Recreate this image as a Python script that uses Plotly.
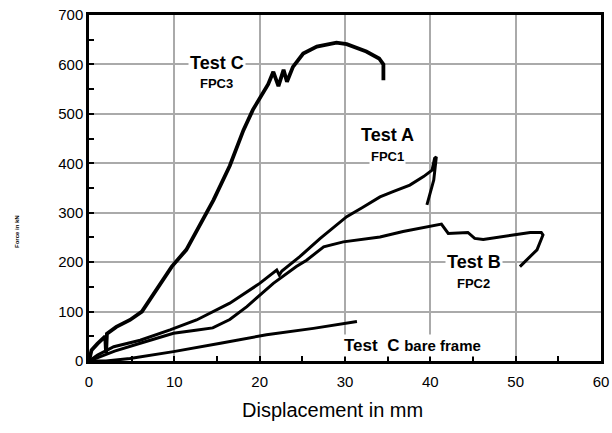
import plotly.graph_objects as go

# Test C (FPC3)
c_x = [0, 0.3, 1.0, 1.9, 2.0, 2.1, 3.2, 4.8, 6.2, 7.1, 8.5, 9.7, 11.4, 13.0, 14.6, 16.5,
       18.1, 19.2, 20.0, 21.0, 21.6, 22.2, 22.8, 23.2, 23.9, 25.1, 26.7, 29.0, 30.2, 32.5,
       34.0, 34.5, 34.5]
c_y = [0, 22, 35, 50, 16, 55, 69, 83, 100, 123, 160, 191, 225, 275, 326, 395,
       467, 508, 530, 560, 585, 556, 589, 565, 595, 622, 636, 644, 641, 626,
       612, 600, 568]

# Test A (FPC1)
a_x = [0, 1.0, 2.9, 6.0, 9.5, 12.6, 16.5, 20.0, 22.0, 22.3, 22.6, 24.7, 27.1, 30.2, 32.0,
       34.1, 35.7, 37.6, 39.2, 40.2, 40.5, 40.7, 40.4, 39.6]
a_y = [0, 12, 29, 42, 63, 83, 117, 157, 184, 174, 182, 211, 248, 292, 310,
       332, 343, 356, 373, 386, 410, 413, 366, 316]

# Test B (FPC2)
b_x = [0, 3.0, 6.0, 9.9, 12.5, 14.5, 16.5, 18.5, 21.6, 24.3, 25.5, 27.5, 29.8, 32.9, 34.1,
       36.8, 40.0, 41.3, 42.1, 44.4, 45.2, 46.2, 49.7, 51.7, 53.0, 53.2, 52.5, 50.5]
b_y = [0, 20, 36, 56, 62, 67, 84, 110, 157, 191, 204, 231, 241, 248, 251,
       262, 272, 277, 258, 260, 248, 246, 255, 260, 260, 255, 225, 191]

# Test C bare frame
f_x = [0, 2.0, 4.8, 9.9, 15.4, 20.8, 26.3, 31.4]
f_y = [0, 0, 5, 19, 36, 53, 66, 80]

x_ticks = [0, 10, 20, 30, 40, 50, 60]
y_ticks = [0, 100, 200, 300, 400, 500, 600, 700]

FONT = "Liberation Sans, Arial, sans-serif"

fig = go.Figure()
for xs, ys, w in [(c_x, c_y, 3.8), (a_x, a_y, 3.0), (b_x, b_y, 3.0), (f_x, f_y, 3.0)]:
    fig.add_trace(go.Scatter(x=xs, y=ys, mode="lines",
                             line=dict(color="black", width=w), showlegend=False,
                             hoverinfo="skip"))

axis_common = dict(
    showline=True, linecolor="black", linewidth=2.5, mirror=True,
    showgrid=True, gridcolor="#aaaaaa", gridwidth=2,
    zeroline=False, ticks="inside", ticklen=5, tickwidth=1.5, tickcolor="black",
    tickfont=dict(family=FONT, size=15, color="black"), automargin=False,
)

fig.update_xaxes(range=[0, 60], tickvals=x_ticks, ticktext=[str(v) for v in x_ticks],
                 minor=dict(dtick=5, ticks="inside", ticklen=5, tickcolor="black", showgrid=False),
                 ticklabelstandoff=5,
                 **axis_common)
fig.update_yaxes(range=[0, 700], tickvals=y_ticks, ticktext=[str(v) for v in y_ticks],
                 minor=dict(dtick=50, ticks="inside", ticklen=5, tickcolor="black", showgrid=False),
                 **axis_common)

def px2paper(px, py):
    return (px - 89) / (601 - 89), (361 - py) / (361 - 15)

def label(px, py, text, size, bg="white"):
    xp, yp = px2paper(px, py)
    fig.add_annotation(x=xp, y=yp, xref="paper", yref="paper", text=text, showarrow=False,
                       font=dict(family=FONT, size=size, color="black"),
                       bgcolor=bg, xanchor="center", yanchor="middle", borderpad=1)

label(217, 63, "<b>Test C</b>", 18)
label(216, 83, "<b>FPC3</b>", 13)
label(387, 135, "<b>Test A</b>", 18)
label(387, 156, "<b>FPC1</b>", 13)
label(474, 262, "<b>Test B</b>", 18)
label(473, 283, "<b>FPC2</b>", 13)
label(412, 345, "<b>Test  C</b> <b><span style='font-size:15px'>bare frame</span></b>", 17)

# x-axis title
label(332, 410, "Displacement in mm", 20, bg="rgba(0,0,0,0)")

# y-axis title (tiny, rotated)
xp, yp = px2paper(12, 232)
fig.add_annotation(x=xp, y=yp, xref="paper", yref="paper", text="<b>Force in kN</b>",
                   showarrow=False, textangle=-90,
                   font=dict(family=FONT, size=6, color="black"))

fig.update_layout(
    width=612, height=433,
    margin=dict(l=89, r=11, t=15, b=72),
    paper_bgcolor="white", plot_bgcolor="white",
    font=dict(family=FONT, color="black"),
)

fig.write_html("out.html", config={"displayModeBar": False},
               post_script="document.body.style.margin='0';document.body.style.overflow='hidden';")
